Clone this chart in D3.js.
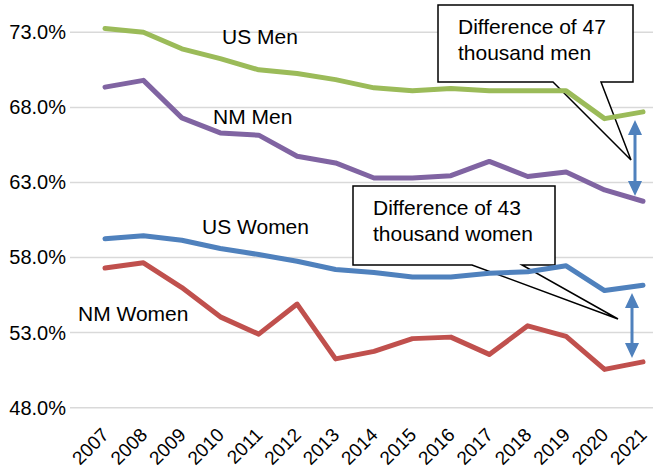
<!DOCTYPE html>
<html>
<head>
<meta charset="utf-8">
<script src="https://cdn.jsdelivr.net/npm/d3@7"></script>
<style>
  html, body { margin: 0; padding: 0; background: #fff; }
  svg { display: block; font-family: "Liberation Sans", Arial, sans-serif; }
</style>
</head>
<body>
<svg id="chart" width="653" height="468"></svg>
<script>
// ---- data ----
const years = ['2007','2008','2009','2010','2011','2012','2013','2014','2015','2016','2017','2018','2019','2020','2021'];
const usMen    = [73.25, 73.0, 71.9, 71.25, 70.5, 70.25, 69.85, 69.3, 69.1, 69.25, 69.1, 69.1, 69.1, 67.25, 67.7];
const nmMen    = [69.35, 69.8, 67.3, 66.3, 66.15, 64.75, 64.3, 63.3, 63.3, 63.45, 64.4, 63.4, 63.7, 62.5, 61.75];
const usWomen  = [59.25, 59.45, 59.15, 58.6, 58.2, 57.75, 57.2, 57.0, 56.7, 56.7, 56.95, 57.05, 57.45, 55.8, 56.15];
const nmWomen  = [57.3, 57.65, 56.0, 54.05, 52.9, 54.9, 51.25, 51.75, 52.6, 52.7, 51.55, 53.45, 52.75, 50.55, 51.05];
const yTicks   = [48, 53, 58, 63, 68, 73];

const series = [
  { name: 'US Men',   values: usMen,   color: '#9BBB59' },
  { name: 'NM Men',   values: nmMen,   color: '#8064A2' },
  { name: 'US Women', values: usWomen, color: '#4F81BD' },
  { name: 'NM Women', values: nmWomen, color: '#C0504D' }
];

const svg = d3.select('#chart');

const x = d3.scalePoint().domain(years).range([105, 643]);
const y = d3.scaleLinear().domain([48, 73]).range([407.7, 32.3]);

// gridlines
svg.append('g').selectAll('line')
  .data(yTicks)
  .join('line')
  .attr('x1', 70).attr('x2', 653)
  .attr('y1', d => y(d)).attr('y2', d => y(d))
  .attr('stroke', '#D9D9D9').attr('stroke-width', 1.5);

// y axis labels
const yAxis = svg.append('g')
  .attr('transform', 'translate(66,0)')
  .call(d3.axisLeft(y).tickValues(yTicks).tickSize(0).tickPadding(0)
    .tickFormat(d => d.toFixed(1) + '%'));
yAxis.select('.domain').remove();
yAxis.selectAll('text')
  .attr('font-family', '"Liberation Sans", Arial, sans-serif')
  .attr('font-size', 20).attr('fill', '#000');

// x axis labels (rotated)
svg.append('g').selectAll('text')
  .data(years)
  .join('text')
  .attr('transform', d => `translate(${x(d) + 5},436) rotate(-45)`)
  .attr('text-anchor', 'end')
  .attr('font-size', 19).attr('fill', '#000')
  .text(d => d);

// callouts (box + pointer wedge)
function callout(bx, by, bw, bh, w0, w1, tx, ty, lines) {
  const g = svg.append('g');
  const p = d3.path();
  p.moveTo(bx, by);
  p.lineTo(bx + bw, by);
  p.lineTo(bx + bw, by + bh);
  p.lineTo(w1, by + bh);
  p.lineTo(tx, ty);
  p.lineTo(w0, by + bh);
  p.lineTo(bx, by + bh);
  p.closePath();
  g.append('path').attr('d', p.toString())
    .attr('fill', '#fff').attr('stroke', '#000').attr('stroke-width', 1.5);
  lines.forEach((t, i) => {
    g.append('text')
      .attr('x', bx + 20).attr('y', by + 29 + i * 26)
      .attr('font-size', 21).attr('fill', '#000')
      .text(t);
  });
}
callout(438, 5, 195, 77, 553, 601, 631, 160, ['Difference of 47', 'thousand men']);
callout(353, 186, 202, 79, 472, 522, 618, 319, ['Difference of 43', 'thousand women']);

// lines
const line = d3.line()
  .x((d, i) => x(years[i]))
  .y(d => y(d));

svg.append('g').selectAll('path')
  .data(series)
  .join('path')
  .attr('d', d => line(d.values))
  .attr('fill', 'none')
  .attr('stroke', d => d.color)
  .attr('stroke-width', 5)
  .attr('stroke-linejoin', 'round')
  .attr('stroke-linecap', 'round');

// series labels
const labelPos = [
  { text: 'US Men',   x: 222, y: 44 },
  { text: 'NM Men',   x: 213, y: 124 },
  { text: 'US Women', x: 202, y: 234 },
  { text: 'NM Women', x: 78,  y: 321 }
];
svg.append('g').selectAll('text')
  .data(labelPos)
  .join('text')
  .attr('x', d => d.x).attr('y', d => d.y)
  .attr('font-size', 21).attr('fill', '#000')
  .text(d => d.text);

// double-headed difference arrows, spanning 2021 values
function dblArrow(cx, y0, y1) {
  const g = svg.append('g').attr('fill', '#4F81BD');
  const hw = 7, hl = 15;
  g.append('line')
    .attr('x1', cx).attr('x2', cx)
    .attr('y1', y0 + hl - 1).attr('y2', y1 - hl + 1)
    .attr('stroke', '#4F81BD').attr('stroke-width', 3);
  g.append('path').attr('d', `M${cx},${y0} L${cx + hw},${y0 + hl} L${cx - hw},${y0 + hl} Z`);
  g.append('path').attr('d', `M${cx},${y1} L${cx + hw},${y1 - hl} L${cx - hw},${y1 - hl} Z`);
}
dblArrow(635, 120, 196);
dblArrow(632, 293, 358);
</script>
</body>
</html>
